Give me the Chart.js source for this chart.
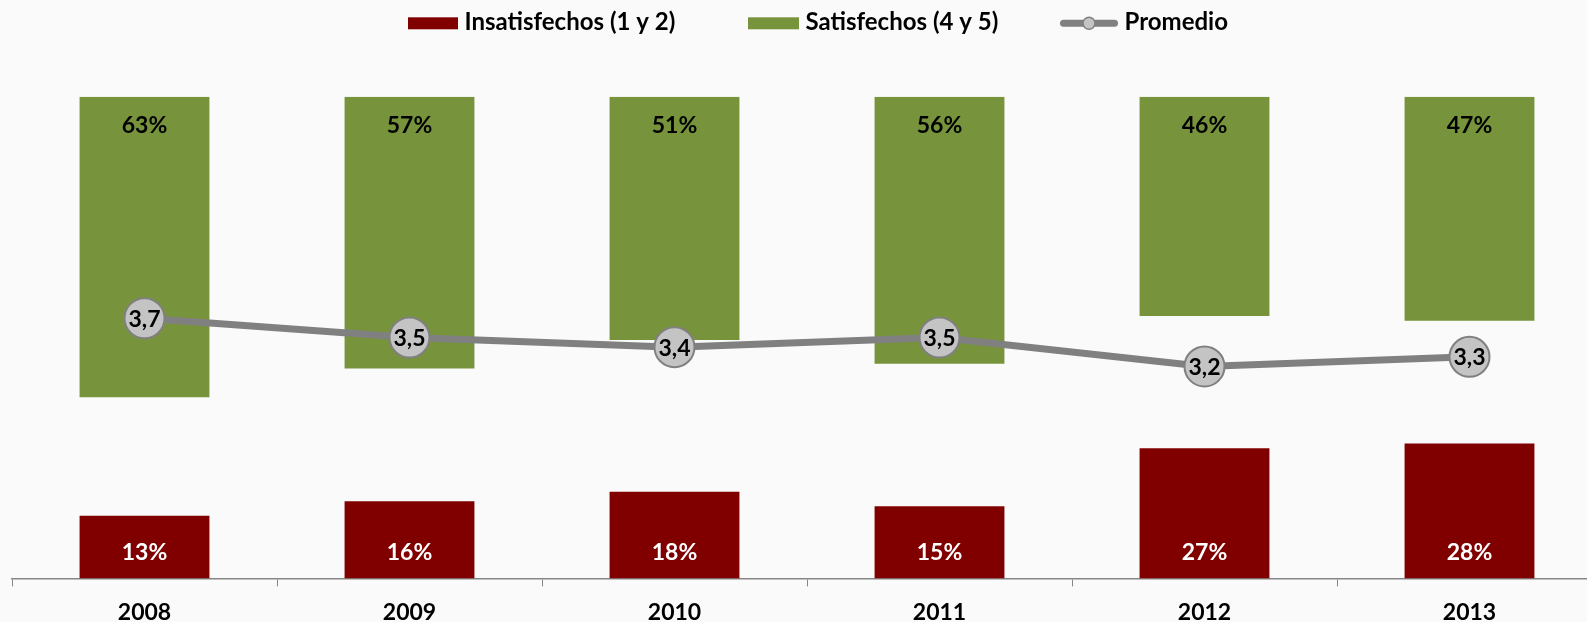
<!DOCTYPE html>
<html>
<head>
<meta charset="utf-8">
<script src="https://cdn.jsdelivr.net/npm/chart.js@4"></script>
<style>
  html, body { margin: 0; padding: 0; background: #FAFAFA; overflow: hidden; }
  canvas { display: block; }
</style>
</head>
<body>
<canvas id="c" width="1640" height="638"></canvas>
<script>
const years = ['2008', '2009', '2010', '2011', '2012', '2013'];
const insatisfechos = [13, 16, 18, 15, 27, 28];
const satisfechos = [63, 57, 51, 56, 46, 47];
const promedio = [3.7, 3.5, 3.4, 3.5, 3.2, 3.3];
const seriesNames = ['Insatisfechos (1 y 2)', 'Satisfechos (4 y 5)', 'Promedio'];

const RED = '#800000';
const GREEN = '#77933C';
const GREY = '#808080';
const LIGHT = '#C4C4C4';
const FONT = 'Lato, "Open Sans", sans-serif';

const labelsPlugin = {
  id: 'valueLabels',
  afterDatasetsDraw(chart) {
    const ctx = chart.ctx;
    ctx.save();
    ctx.font = 'bold 23px ' + FONT;
    ctx.textAlign = 'center';
    ctx.textBaseline = 'alphabetic';
    const capH = ctx.measureText('0').actualBoundingBoxAscent || 16.6;
    chart.data.datasets.forEach((ds, i) => {
      const meta = chart.getDatasetMeta(i);
      meta.data.forEach((el, j) => {
        const v = ds.data[j];
        if (ds.kind === 'bad') {
          ctx.fillStyle = '#FFFFFF';
          ctx.fillText(v + '%', el.x, el.base - 18.4);
        } else if (ds.kind === 'good') {
          ctx.fillStyle = '#000000';
          ctx.fillText(v + '%', el.x, el.base + 36.6);
        } else {
          ctx.fillStyle = '#000000';
          ctx.fillText(v.toFixed(1).replace('.', ','), el.x, el.y + capH / 2);
        }
      });
    });
    ctx.restore();
  }
};

const legendPlugin = {
  id: 'customLegend',
  afterDraw(chart) {
    const ctx = chart.ctx;
    const iconX = [408, 748, 1060];
    const iconW = [50, 51, 58];
    const midY = 23.3;
    const baseY = 30;
    ctx.save();
    ctx.font = 'bold 24px ' + FONT;
    ctx.textAlign = 'left';
    ctx.textBaseline = 'alphabetic';
    seriesNames.forEach((name, k) => {
      const x0 = iconX[k];
      const w = iconW[k];
      if (k < 2) {
        ctx.fillStyle = k === 0 ? RED : GREEN;
        ctx.fillRect(x0, midY - 6, w, 12);
      } else {
        ctx.strokeStyle = GREY;
        ctx.lineWidth = 7;
        ctx.lineCap = 'round';
        ctx.beginPath();
        ctx.moveTo(x0 + 3.5, midY);
        ctx.lineTo(x0 + w - 3.5, midY);
        ctx.stroke();
        ctx.beginPath();
        ctx.arc(x0 + w / 2, midY, 6, 0, Math.PI * 2);
        ctx.fillStyle = LIGHT;
        ctx.fill();
        ctx.lineWidth = 1.5;
        ctx.stroke();
      }
      ctx.fillStyle = '#000000';
      ctx.fillText(name, x0 + w + 6.5, baseY);
    });
    ctx.restore();
  }
};

new Chart(document.getElementById('c'), {
  type: 'bar',
  data: {
    labels: years,
    datasets: [
      {
        type: 'line',
        kind: 'avg',
        label: seriesNames[2],
        data: promedio,
        yAxisID: 'yL',
        borderColor: GREY,
        borderWidth: 7,
        backgroundColor: LIGHT,
        pointRadius: 20,
        pointHoverRadius: 20,
        pointBackgroundColor: LIGHT,
        pointBorderColor: GREY,
        pointBorderWidth: 2,
        tension: 0,
        clip: false,
        order: 0
      },
      {
        kind: 'bad',
        label: seriesNames[0],
        data: insatisfechos,
        yAxisID: 'y',
        backgroundColor: RED,
        borderWidth: 0,
        grouped: false,
        barPercentage: 0.49,
        categoryPercentage: 1,
        order: 1
      },
      {
        kind: 'good',
        label: seriesNames[1],
        data: satisfechos,
        yAxisID: 'yG',
        backgroundColor: GREEN,
        borderWidth: 0,
        grouped: false,
        barPercentage: 0.49,
        categoryPercentage: 1,
        order: 2
      }
    ]
  },
  options: {
    responsive: false,
    animation: false,
    devicePixelRatio: 1,
    layout: { autoPadding: false, padding: { left: 12, right: 38, top: 96.7, bottom: 0 } },
    plugins: {
      legend: { display: false },
      tooltip: { enabled: false }
    },
    scales: {
      x: {
        offset: true,
        grid: {
          display: true,
          offset: true,
          drawOnChartArea: false,
          drawTicks: true,
          tickLength: 8,
          color: '#868686',
          lineWidth: 1
        },
        border: { display: true, color: '#868686', width: 1.5 },
        ticks: {
          color: '#000000',
          font: { family: FONT, weight: 'bold', size: 23 },
          padding: 12,
          maxRotation: 0,
          autoSkip: false
        }
      },
      y: { display: false, min: 0, max: 100 },
      yG: { display: false, reverse: true, min: 0, max: 101 },
      yL: { display: false, min: 1, max: 6 }
    }
  },
  plugins: [labelsPlugin, legendPlugin]
});
</script>
</body>
</html>
